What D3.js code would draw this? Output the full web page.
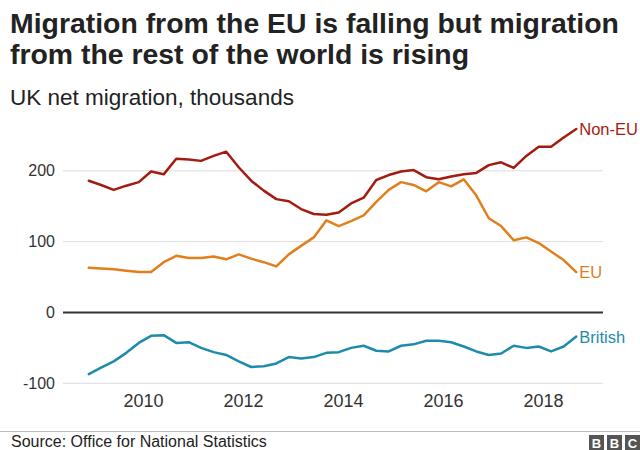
<!DOCTYPE html>
<html>
<head>
<meta charset="utf-8">
<script src="https://cdn.jsdelivr.net/npm/d3@7"></script>
<style>
  html, body { margin: 0; padding: 0; background: #fff; }
  svg { display: block; font-family: "Liberation Sans", Arial, Helvetica, sans-serif; }
</style>
</head>
<body>
<svg id="chart" width="640" height="450"></svg>
<script>
// Quarterly periods (year ending), Dec 2008 .. Sep 2018
const periods = [
  "2008-12","2009-03","2009-06","2009-09","2009-12","2010-03","2010-06","2010-09",
  "2010-12","2011-03","2011-06","2011-09","2011-12","2012-03","2012-06","2012-09",
  "2012-12","2013-03","2013-06","2013-09","2013-12","2014-03","2014-06","2014-09",
  "2014-12","2015-03","2015-06","2015-09","2015-12","2016-03","2016-06","2016-09",
  "2016-12","2017-03","2017-06","2017-09","2017-12","2018-03","2018-06","2018-09"
];
const nonEU = [186, 180, 173, 179, 184, 199, 195, 217, 216, 214, 221, 227, 205, 186, 172, 160,
               157, 146, 139, 138, 141, 154, 162, 187, 194, 199, 201, 191, 188, 192, 195, 197,
               208, 212, 204, 221, 234, 234, 247, 259];
const eu = [63, 62, 61, 59, 57, 57, 71, 80, 77, 77, 79, 75, 82, 76, 71, 65,
            82, 94, 106, 130, 122, 129, 137, 156, 173, 184, 180, 171, 184, 178, 188, 165,
            133, 122, 102, 106, 98, 86, 74, 57];
const british = [-87, -78, -69, -57, -43, -33, -32, -43, -42, -50, -56, -60, -69, -77, -76, -72,
                 -63, -65, -63, -57, -56, -50, -47, -54, -55, -47, -45, -40, -40, -42, -48, -55,
                 -60, -58, -47, -50, -48, -55, -48, -34];
const seriesNames = ["Non-EU", "EU", "British"];
const seriesColors = ["#a31c10", "#e07f1c", "#1e8bad"];
const yTicks = [-100, 0, 100, 200];
const xTickYears = [2010, 2012, 2014, 2016, 2018];
const titleLines = ["Migration from the EU is falling but migration", "from the rest of the world is rising"];
const subtitle = "UK net migration, thousands";
const source = "Source: Office for National Statistics";

const svg = d3.select("#chart");
const parse = d3.timeParse("%Y-%m");
const dates = periods.map(parse);

const x = d3.scaleTime()
  .domain([new Date(2010, 0, 1), new Date(2018, 0, 1)])
  .range([143, 543]);
const y = d3.scaleLinear().domain([-100, 200]).range([383.3, 170.8]);

const gridX0 = 63, gridX1 = 603;

// Title
svg.append("g").selectAll("text").data(titleLines).join("text")
  .attr("x", 10).attr("y", (d, i) => 33 + i * 31)
  .attr("font-size", 28.4).attr("font-weight", "bold").attr("fill", "#222")
  .text(d => d);
svg.append("text").attr("x", 10).attr("y", 105)
  .attr("font-size", 22.5).attr("fill", "#222").text(subtitle);

// Y axis with gridlines
const yAxis = d3.axisLeft(y).tickValues(yTicks).tickSize(0).tickPadding(8).tickFormat(d => String(d));
const yg = svg.append("g").attr("transform", `translate(${gridX0},0)`).call(yAxis);
yg.select(".domain").remove();
yg.selectAll("text").attr("font-size", 16).attr("fill", "#333")
  .attr("font-family", "Liberation Sans, Arial, sans-serif");
svg.append("g").selectAll("line").data(yTicks).join("line")
  .attr("x1", gridX0).attr("x2", gridX1)
  .attr("y1", d => y(d)).attr("y2", d => y(d))
  .attr("stroke", d => d === 0 ? "#333" : "#dcdcdc")
  .attr("stroke-width", d => d === 0 ? 2 : 1);

// X axis
const xAxis = d3.axisBottom(x)
  .tickValues(xTickYears.map(yr => new Date(yr, 0, 1)))
  .tickSize(0).tickPadding(0).tickFormat(d3.timeFormat("%Y"));
const xg = svg.append("g").attr("transform", `translate(0,394)`).call(xAxis);
xg.select(".domain").remove();
xg.selectAll("text").attr("font-size", 18).attr("fill", "#333")
  .attr("font-family", "Liberation Sans, Arial, sans-serif");

// Lines
const allSeries = [nonEU, eu, british];
const line = d3.line().x((d, i) => x(dates[i])).y(d => y(d));
svg.append("g").selectAll("path").data(allSeries).join("path")
  .attr("d", d => line(d))
  .attr("fill", "none")
  .attr("stroke", (d, i) => seriesColors[i])
  .attr("stroke-width", 2.5)
  .attr("stroke-linejoin", "round").attr("stroke-linecap", "round");

// Line labels
svg.append("g").selectAll("text").data(allSeries).join("text")
  .attr("x", (d) => x(dates[d.length - 1]) + 3)
  .attr("y", d => y(d[d.length - 1]) + 6)
  .attr("font-size", 16.5).attr("fill", (d, i) => seriesColors[i])
  .text((d, i) => seriesNames[i]);

// Footer
svg.append("line").attr("x1", 0).attr("x2", 640).attr("y1", 431.5).attr("y2", 431.5)
  .attr("stroke", "#bbb").attr("stroke-width", 1);
svg.append("text").attr("x", 11).attr("y", 447)
  .attr("font-size", 16).attr("fill", "#222").text(source);

const bbc = svg.append("g");
["B", "B", "C"].forEach((ch, i) => {
  const bx = 589 + i * 18;
  bbc.append("rect").attr("x", bx).attr("y", 435).attr("width", 15).attr("height", 15).attr("fill", "#555");
  bbc.append("text").attr("x", bx + 7.5).attr("y", 448).attr("text-anchor", "middle")
    .attr("font-size", 13).attr("font-weight", "bold").attr("fill", "#fff").text(ch);
});
</script>
</body>
</html>
